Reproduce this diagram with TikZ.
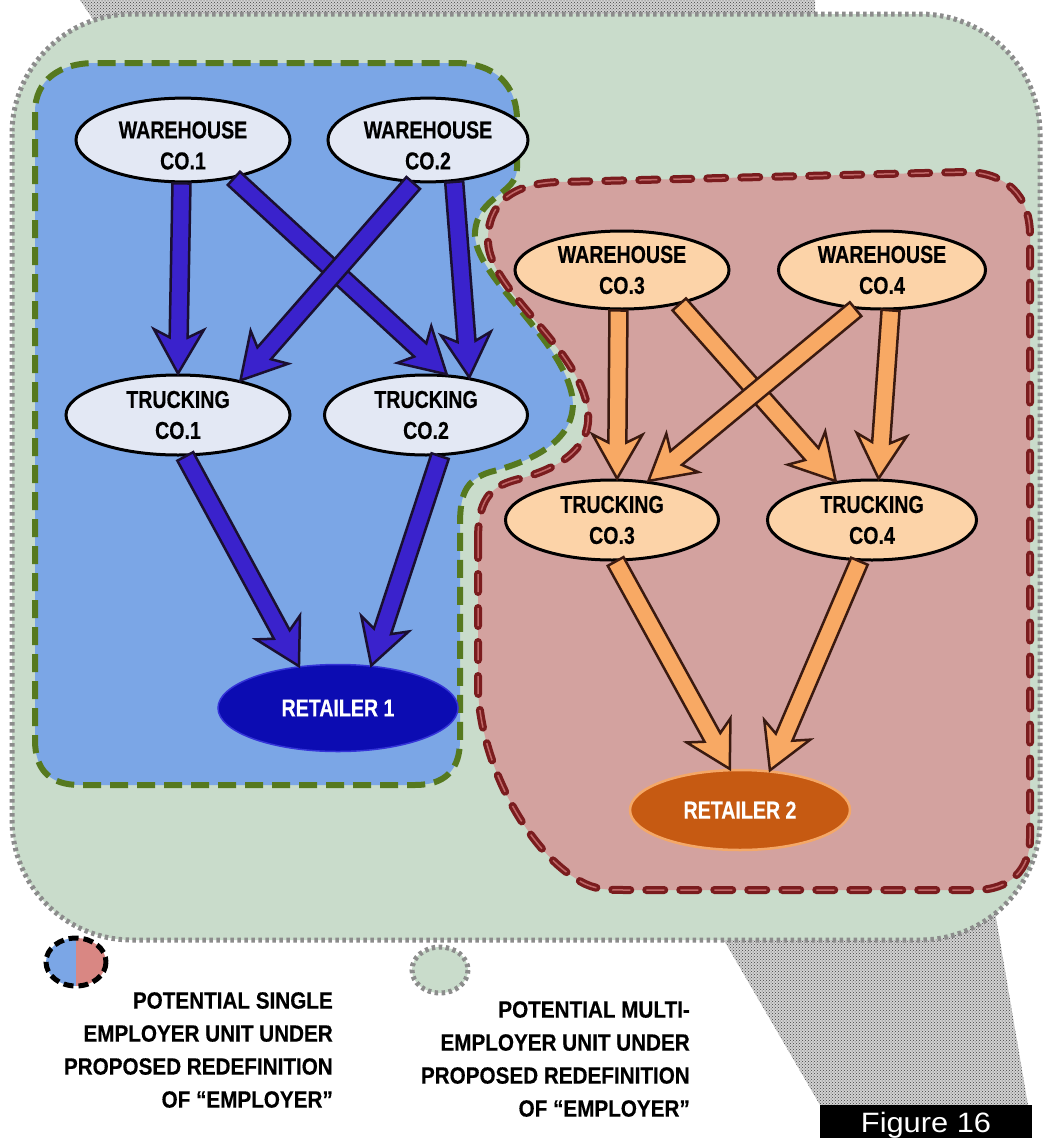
\documentclass[tikz,border=0pt]{standalone}
\usepackage{fontspec}
\setmainfont{Liberation Sans}[FakeStretch=0.8, BoldFeatures={FakeBold=0.4}]
\newfontfamily\legendfont{Liberation Sans}[FakeStretch=0.88, BoldFeatures={FakeBold=0.4}]
\newfontfamily\figfont{Liberation Sans}[FakeStretch=1.1]
\usetikzlibrary{patterns,calc,shapes.geometric}
\definecolor{bggreen}{HTML}{C9DCCB}
\definecolor{dotgray}{HTML}{8C8C8C}
\definecolor{bluefill}{HTML}{7BA6E6}
\definecolor{greendash}{HTML}{56791F}
\definecolor{redfill}{HTML}{D3A29F}
\definecolor{reddash}{HTML}{7A1C1E}
\definecolor{redhi}{HTML}{C06868}
\definecolor{nodeblue}{HTML}{E3E8F4}
\definecolor{nodeorange}{HTML}{FCD3A8}
\definecolor{arrowblue}{HTML}{3A22CC}
\definecolor{arroworange}{HTML}{F8A964}
\definecolor{arrowline}{HTML}{1A1030}
\definecolor{arrowlineo}{HTML}{3A1A10}
\definecolor{retblue}{HTML}{0C0CB2}
\definecolor{retblueline}{HTML}{3434D8}
\definecolor{retorange}{HTML}{C65A12}
\definecolor{retorangeline}{HTML}{F4A868}
\definecolor{legred}{HTML}{D98783}
\newcommand{\nodefont}{\bfseries\fontsize{24.5}{31}\selectfont}
\newcommand{\legfont}{\legendfont\bfseries\fontsize{23.5}{33}\selectfont}
\newcommand{\lowstrut}{\rule{0pt}{28pt}}
\tikzset{
  enode/.style={ellipse, draw=black, line width=3pt, font=\nodefont, align=center, inner sep=0pt},
  bnode/.style={enode, fill=nodeblue},
  onode/.style={enode, fill=nodeorange},
  retnode/.style={ellipse, font=\nodefont, text=white, align=center, inner sep=0pt},
  outerregion/.style={fill=bggreen, draw=dotgray, line width=5pt, dash pattern=on 3.5pt off 3.5pt},
  blueregion/.style={fill=bluefill, draw=greendash, line width=6pt, dash pattern=on 18pt off 9pt},
  redregion/.style={fill=redfill, draw=reddash, line width=8pt, line cap=round, dash pattern=on 18pt off 16pt},
  redhilite/.style={draw=redhi, line width=1.5pt, dash pattern=on 18pt off 16pt},
  legtext/.style={font=\legfont, align=right, inner sep=0pt, anchor=north east},
  halftone/.style={pattern=crosshatch dots, pattern color=black!75}
}
% block arrow: #1 fill, #2 outline colour, #3 start, #4 end
\newcommand{\blockarr}[4]{%
  \coordinate (ba-s) at (#3);
  \coordinate (ba-e) at (#4);
  \coordinate (ba-h) at ($(ba-e)!44pt!(ba-s)$);
  \coordinate (ba-n) at ($(ba-e)!36pt!(ba-s)$);
  \filldraw[fill=#1, draw=#2, line width=2.5pt, line join=miter]
    ($(ba-s)!9pt!90:(ba-e)$) -- ($(ba-n)!9pt!90:(ba-e)$) -- ($(ba-h)!25pt!90:(ba-e)$)
    -- (ba-e) -- ($(ba-h)!25pt!-90:(ba-e)$) -- ($(ba-n)!9pt!-90:(ba-e)$)
    -- ($(ba-s)!9pt!-90:(ba-e)$) -- cycle;}
\begin{document}
\begin{tikzpicture}[x=1pt,y=-1pt]
\useasboundingbox (0,0) rectangle (1045,1138);
\fill[white] (0,0) rectangle (1045,1138);
% halftone background bands
\fill[gray!35] (80,0) -- (815,0) -- (815,30) -- (100,30) -- cycle;
\fill[halftone] (80,0) -- (815,0) -- (815,30) -- (100,30) -- cycle;
\fill[gray!35] (718,930) -- (993,900) -- (1028,1105) -- (820,1105) -- cycle;
\fill[halftone] (718,930) -- (993,900) -- (1028,1105) -- (820,1105) -- cycle;
% outer multi-employer region
\path[outerregion, rounded corners=120pt] (12,14) rectangle (1040,940);
% blue single-employer region
\path[blueregion] (35,400) -- (35,112) .. controls (35,80) and (60,63) .. (95,63) -- (455,63)
  .. controls (495,63) and (517,85) .. (517,120) -- (517,168)
  .. controls (517,195) and (478,195) .. (475,232)
  .. controls (472,275) and (560,335) .. (572,395)
  .. controls (580,440) and (530,462) .. (490,472)
  .. controls (465,480) and (460,495) .. (460,525) -- (460,740)
  .. controls (460,770) and (445,785) .. (415,785) -- (80,785)
  .. controls (50,785) and (35,770) .. (35,740) -- cycle;
% red single-employer region
\def\redpath{(478,540) -- (478,690) .. controls (482,770) and (530,850) .. (575,878)
  .. controls (590,888) and (600,890) .. (625,890) -- (975,890)
  .. controls (1010,890) and (1030,870) .. (1030,838) -- (1030,235)
  .. controls (1030,195) and (1005,172) .. (965,172) -- (560,182)
  .. controls (510,183) and (487,205) .. (488,242)
  .. controls (490,290) and (575,345) .. (587,405)
  .. controls (596,450) and (555,470) .. (515,480)
  .. controls (490,487) and (478,500) .. (478,540) -- cycle}
\path[redregion] \redpath;
\path[redhilite] \redpath;
% nodes
\node[bnode, minimum width=214pt, minimum height=78pt] (w1) at (183,140) {\lowstrut WAREHOUSE\\CO.1};
\node[bnode, minimum width=200pt, minimum height=78pt] (w2) at (428,140) {\lowstrut WAREHOUSE\\CO.2};
\node[bnode, minimum width=224pt, minimum height=80pt] (t1) at (178,415) {TRUCKING\\CO.1};
\node[bnode, minimum width=203pt, minimum height=80pt] (t2) at (426,415) {TRUCKING\\CO.2};
\node[retnode, fill=retblue, draw=retblueline, line width=1.5pt, minimum width=240pt, minimum height=87pt] (r1) at (338,708) {RETAILER 1};
\node[onode, minimum width=214pt, minimum height=78pt] (w3) at (622,270) {WAREHOUSE\\CO.3};
\node[onode, minimum width=207pt, minimum height=78pt] (w4) at (882,270) {WAREHOUSE\\CO.4};
\node[onode, minimum width=213pt, minimum height=80pt] (t3) at (612,520) {TRUCKING\\CO.3};
\node[onode, minimum width=209pt, minimum height=80pt] (t4) at (872,520) {TRUCKING\\CO.4};
\node[retnode, fill=retorange, draw=retorangeline, line width=2.5pt, minimum width=220pt, minimum height=80pt] (r2) at (740,810) {RETAILER 2};
% blue arrows
\blockarr{arrowblue}{arrowline}{w1.-92}{t1.90}
\blockarr{arrowblue}{arrowline}{w1.-37}{t2.63}
\blockarr{arrowblue}{arrowline}{w2.-109}{t1.29}
\blockarr{arrowblue}{arrowline}{w2.-58}{t2.41}
\blockarr{arrowblue}{arrowline}{t1.-80}{r1.133}
\blockarr{arrowblue}{arrowline}{t2.-71}{r1.52}
% orange arrows
\blockarr{arroworange}{arrowlineo}{w3.-95}{t3.83}
\blockarr{arroworange}{arrowlineo}{w3.-31}{t4.133}
\blockarr{arroworange}{arrowlineo}{w4.-124}{t3.47}
\blockarr{arroworange}{arrowlineo}{w4.-78}{t4.81}
\blockarr{arroworange}{arrowlineo}{t3.-85}{r2.104}
\blockarr{arroworange}{arrowlineo}{t4.-107}{r2.53}
% legend
\begin{scope}
  \clip (76,962) ellipse [x radius=30, y radius=24];
  \fill[bluefill] (40,930) rectangle (76,1000);
  \fill[legred] (76,930) rectangle (115,1000);
\end{scope}
\draw[black, line width=5pt, dash pattern=on 10pt off 5pt] (76,962) ellipse [x radius=30, y radius=24];
\node[legtext] (leg1) at (333,992) {POTENTIAL SINGLE\\EMPLOYER UNIT UNDER\\PROPOSED REDEFINITION\\OF “EMPLOYER”};
\draw[fill=bggreen, draw=dotgray, line width=5pt, dash pattern=on 3.5pt off 3.5pt] (440,970) ellipse [x radius=28, y radius=23];
\node[legtext] (leg2) at (690,1001) {POTENTIAL MULTI-\\EMPLOYER UNIT UNDER\\PROPOSED REDEFINITION\\OF “EMPLOYER”};
% figure label
\fill[black] (820,1105) rectangle (1032,1145);
\node[font=\figfont\fontsize{28}{34}\selectfont, text=white, anchor=base, inner sep=0pt] (fig) at (926,1132) {Figure 16};
\end{tikzpicture}
\end{document}
